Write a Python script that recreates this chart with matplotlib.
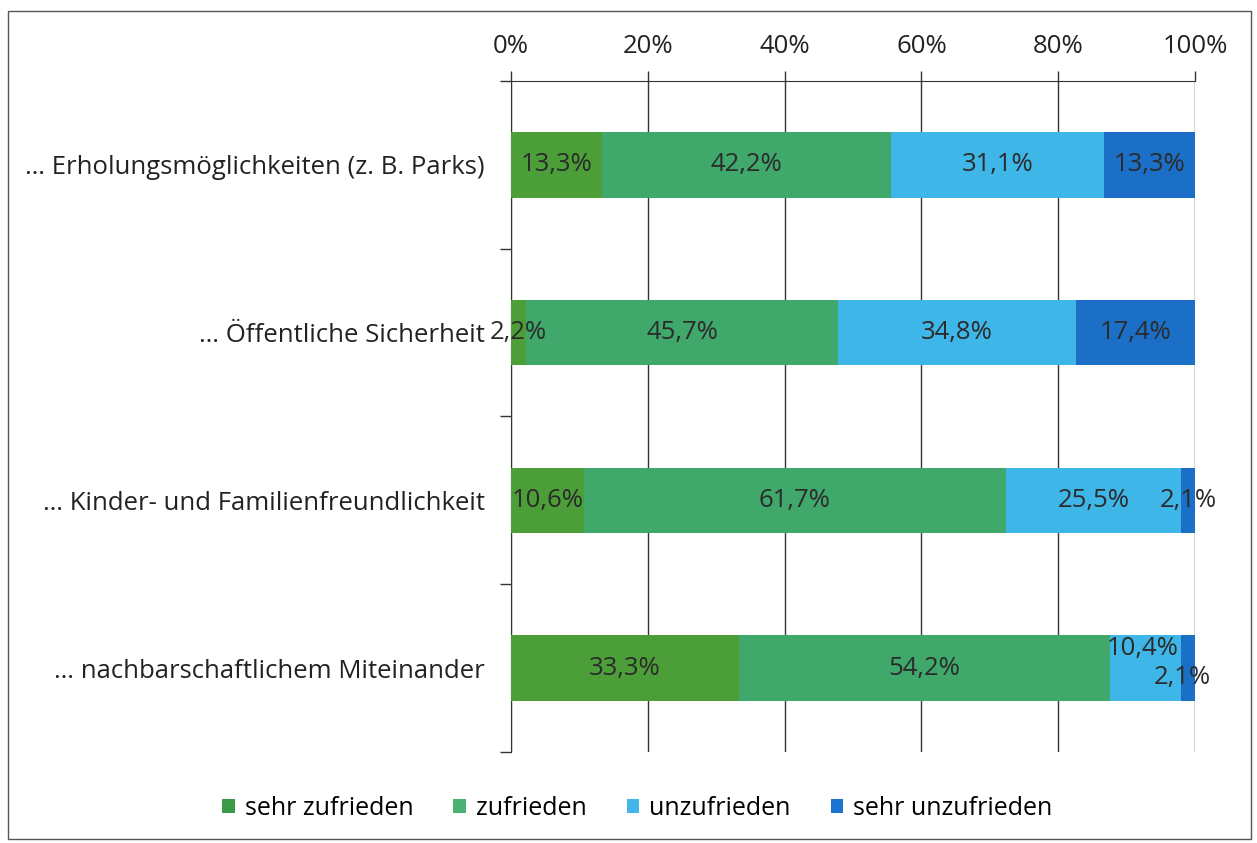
import matplotlib
matplotlib.use('Agg')
import matplotlib.pyplot as plt
import numpy as np
from matplotlib.patches import Rectangle, Patch

# Daten aus der Grafik
kategorien = ['… Erholungsmöglichkeiten (z. B. Parks)',
              '… Öffentliche Sicherheit',
              '… Kinder- und Familienfreundlichkeit',
              '… nachbarschaftlichem Miteinander']
serien = ['sehr zufrieden', 'zufrieden', 'unzufrieden', 'sehr unzufrieden']
sehr_zufrieden = [13.3, 2.2, 10.6, 33.3]
zufrieden = [42.2, 45.7, 61.7, 54.2]
unzufrieden = [31.1, 34.8, 25.5, 10.4]
sehr_unzufrieden = [13.3, 17.4, 2.1, 2.1]
x_ticks = [0, 20, 40, 60, 80, 100]

farben = ['#4c9f38', '#3fa86a', '#3fb6e8', '#1c6fc6']
legenden_farben = ['#3a9a48', '#4caf74', '#43b5e8', '#1a74d0']

plt.rcParams['font.family'] = ['Open Sans', 'DejaVu Sans']

fig = plt.figure(figsize=(12.57, 8.43), dpi=100)
ax = fig.add_axes([0.4065, 0.108, 0.5442, 0.7959])

werte = np.array([sehr_zufrieden, zufrieden, unzufrieden, sehr_unzufrieden])
# 100% gestapelt wie in Excel
werte_norm = werte / werte.sum(axis=0) * 100
y = np.arange(len(kategorien))

# Sonderfaelle fuer Beschriftungen (Offsets in Punkten)
offsets = {(3, 2): (-2, 14), (3, 3): (-4, -7)}

links = np.zeros(len(kategorien))
for i in range(len(serien)):
    ax.barh(y, werte_norm[i], left=links, height=0.39, color=farben[i], zorder=3)
    for j in range(len(kategorien)):
        mitte = links[j] + werte_norm[i][j] / 2
        dx, dy = offsets.get((j, i), (0, 0))
        txt = f'{werte[i][j]:.1f}%'.replace('.', ',')
        ax.annotate(txt, (mitte, y[j]), xytext=(dx, dy), textcoords='offset points',
                    ha='center', va='center', fontsize=18.5, color='#2b2b2b', zorder=5)
    links += werte_norm[i]

ax.set_xlim(0, 100)
ax.set_ylim(3.5, -0.5)
ax.xaxis.tick_top()
ax.set_xticks(x_ticks)
ax.set_xticklabels([f'{t}%' for t in x_ticks], fontsize=18.5, color='#222222')
ax.tick_params(axis='x', length=7, width=1, color='#333333', pad=9)
ax.grid(axis='x', color='#333333', linewidth=1, zorder=0)

ax.set_yticks(y)
ax.set_yticklabels(kategorien, fontsize=18.5, color='#222222')
ax.set_yticks(np.arange(-0.5, 4.0, 1.0), minor=True)
ax.tick_params(axis='y', which='major', length=0, pad=19)
ax.tick_params(axis='y', which='minor', length=8, width=1, color='#333333')

ax.spines['right'].set_visible(False)
ax.spines['bottom'].set_visible(False)
ax.spines['top'].set_color('#333333')
ax.spines['left'].set_color('#333333')

handles = [Patch(facecolor=c, edgecolor='none') for c in legenden_farben]
fig.legend(handles, serien, loc='center', bbox_to_anchor=(0.507, 0.041), ncol=4,
           frameon=False, fontsize=18, handlelength=0.5, handleheight=0.5,
           handletextpad=0.4, columnspacing=1.6)

# Rahmen um die ganze Grafik
fig.patches.append(Rectangle((0.006, 0.005), 0.989, 0.982, transform=fig.transFigure,
                             fill=False, edgecolor='#555555', linewidth=1))

fig.savefig('out.png', dpi=100)
